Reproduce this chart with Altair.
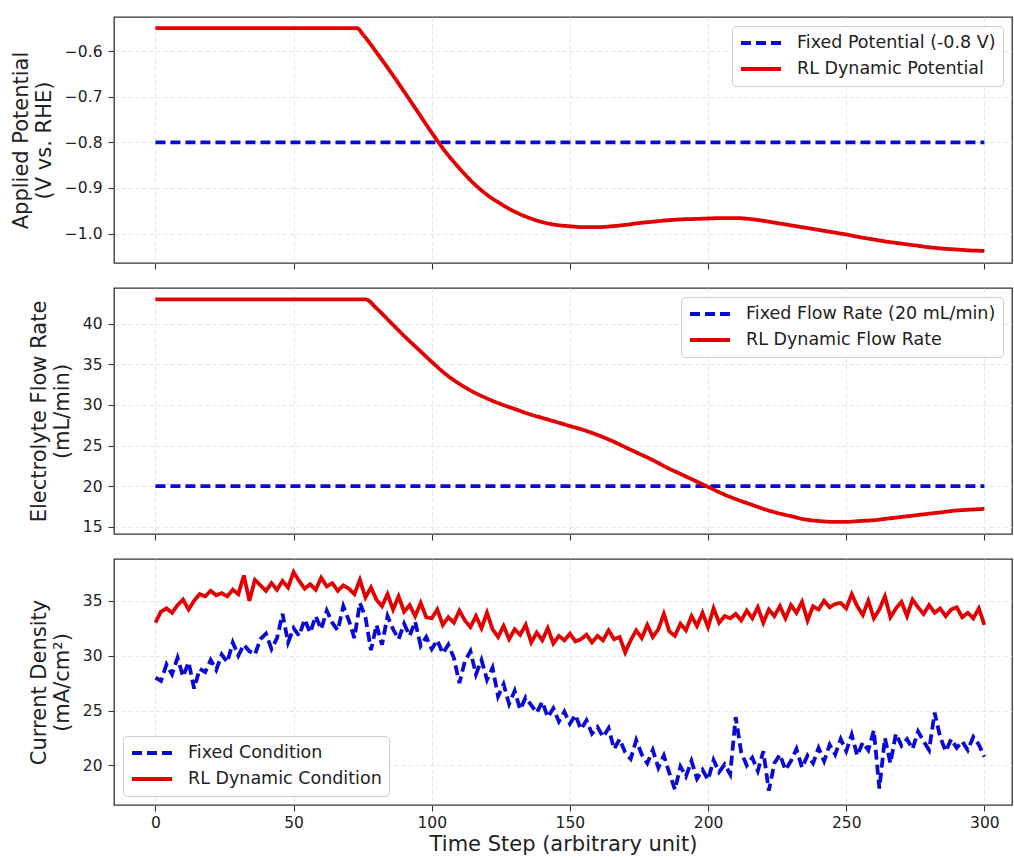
import altair as alt
import pandas as pd

# ---------------- data ----------------
# Panel 1: applied potential
pot_t = [0, 73, 75, 80, 85, 90, 95, 100, 105, 110, 115, 120, 125, 130, 135, 140, 145, 150,
         155, 160, 165, 170, 175, 180, 185, 190, 195, 200, 205, 210, 215, 220, 225, 230,
         235, 240, 245, 250, 255, 260, 265, 270, 275, 280, 285, 290, 295, 300]
pot_rl = [-0.55, -0.55, -0.563, -0.603, -0.645, -0.689, -0.734, -0.779, -0.821, -0.857,
          -0.889, -0.915, -0.935, -0.952, -0.965, -0.975, -0.981, -0.984, -0.986, -0.986,
          -0.984, -0.981, -0.977, -0.974, -0.971, -0.969, -0.968, -0.967, -0.966, -0.966,
          -0.968, -0.972, -0.977, -0.982, -0.987, -0.992, -0.997, -1.002, -1.008, -1.013,
          -1.018, -1.022, -1.026, -1.030, -1.033, -1.035, -1.037, -1.038]
fixed_t = [0, 300]
pot_fixed = [-0.8, -0.8]

# Panel 2: electrolyte flow rate
flow_t = [0, 76, 80, 85, 90, 95, 100, 105, 110, 115, 120, 125, 130, 135, 140, 145, 150,
          155, 160, 165, 170, 175, 180, 185, 190, 195, 200, 205, 210, 215, 220, 225, 230,
          235, 240, 245, 250, 255, 260, 265, 270, 275, 280, 285, 290, 295, 300]
flow_rl = [43.0, 43.0, 41.9, 40.2, 38.5, 36.9, 35.3, 33.8, 32.6, 31.6, 30.8, 30.1, 29.5,
           28.9, 28.4, 27.9, 27.4, 26.9, 26.3, 25.6, 24.8, 24.0, 23.2, 22.3, 21.5, 20.7,
           19.9, 19.1, 18.4, 17.8, 17.2, 16.7, 16.3, 15.9, 15.7, 15.6, 15.6, 15.7, 15.8,
           16.0, 16.2, 16.4, 16.6, 16.8, 17.0, 17.1, 17.2]
flow_fixed = [20.0, 20.0]

# Panel 3: current density (time steps 0, 2, ..., 300)
cd_t = list(range(0, 301, 2))
cd_rl = [33.0, 34.0, 34.3, 33.9, 34.6, 35.1, 34.2, 35.0, 35.6, 35.4, 35.9, 35.5, 35.7, 35.4,
         36.0, 35.6, 37.3, 35.0, 36.9, 36.4, 35.9, 36.6, 36.0, 36.8, 36.2, 37.6, 36.8, 36.1,
         36.5, 36.0, 37.1, 36.3, 36.6, 35.9, 36.4, 36.1, 35.6, 36.9, 35.3, 36.2, 35.1, 34.5,
         35.6, 34.2, 35.4, 34.0, 34.6, 33.6, 34.8, 33.5, 33.4, 34.2, 32.8, 33.5, 33.0, 34.1,
         33.2, 32.6, 33.6, 32.5, 33.9, 32.4, 31.7, 32.7, 31.5, 32.4, 31.9, 32.8, 31.2, 32.1,
         31.4, 32.5, 31.1, 31.8, 31.4, 32.0, 31.3, 31.5, 31.9, 31.2, 31.8, 31.4, 32.3, 31.5,
         31.7, 30.3, 31.4, 32.3, 31.6, 32.8, 31.7, 32.4, 33.8, 32.2, 31.8, 32.9, 32.3, 33.6,
         32.7, 33.9, 32.6, 34.3, 33.0, 33.6, 33.4, 33.8, 33.2, 34.1, 33.4, 34.4, 33.0, 34.2,
         33.6, 34.5, 33.4, 34.6, 33.9, 34.9, 33.2, 34.5, 34.2, 35.0, 34.4, 34.7, 34.8, 34.3,
         35.6, 34.5, 33.7, 35.0, 33.4, 34.2, 35.4, 33.5, 34.3, 34.9, 33.6, 35.1, 34.4, 33.8,
         34.6, 33.9, 34.3, 33.6, 34.2, 34.4, 33.5, 33.9, 33.4, 34.3, 32.8]
cd_fixed = [28.0, 27.7, 29.2, 28.3, 29.8, 28.1, 29.4, 27.0, 28.8, 28.5, 29.6, 28.7, 30.1, 29.4,
            31.2, 30.0, 31.0, 30.4, 30.1, 31.5, 32.0, 30.6, 31.6, 33.8, 31.2, 32.5, 31.8, 33.3,
            32.1, 33.6, 32.4, 34.1, 33.0, 32.3, 34.5, 33.2, 31.6, 34.8, 33.5, 30.5, 32.8, 31.0,
            33.6, 32.4, 31.5, 32.9, 31.8, 33.1, 30.9, 31.7, 30.6, 31.4, 30.2, 31.0, 29.8, 27.5,
            29.5, 30.4, 28.3, 29.6, 27.8, 28.9, 26.3, 27.4, 25.6, 26.8, 25.1, 26.2, 25.5, 24.8,
            25.8, 24.4, 25.2, 24.0, 24.9, 23.8, 24.6, 23.3, 24.1, 22.9, 23.5, 22.6, 23.4, 21.5,
            22.4, 21.2, 20.6, 22.3, 21.0, 20.2, 21.4, 19.8, 20.9, 19.3, 17.8, 19.9, 19.0, 20.4,
            18.8, 19.6, 18.7, 20.5, 19.4, 20.1, 19.2, 24.4, 21.2, 20.0, 20.7, 19.5, 21.3, 17.7,
            20.2, 21.0, 19.6, 20.4, 21.5, 19.8, 20.9, 20.2, 21.6, 20.4, 21.9, 21.0, 22.4, 21.3,
            22.8, 20.9, 22.1, 21.4, 23.2, 17.9, 22.5, 20.2, 22.9, 21.8, 22.4, 21.5, 23.1, 22.2,
            21.4, 24.8, 22.6, 21.3, 22.4, 21.6, 22.2, 21.4, 22.6, 21.9, 20.8]

x_ticks = [0, 50, 100, 150, 200, 250, 300]
pot_ticks = [-1.0, -0.9, -0.8, -0.7, -0.6]
flow_ticks = [15, 20, 25, 30, 35, 40]
cd_ticks = [20, 25, 30, 35]

BLUE = "#0a0ad6"
RED = "#e30000"
FONT = "DejaVu Sans"
LW = 3.8


def frame(t_fixed, v_fixed, name_fixed, t_rl, v_rl, name_rl):
    a = pd.DataFrame({"t": t_fixed, "v": v_fixed, "series": name_fixed})
    b = pd.DataFrame({"t": t_rl, "v": v_rl, "series": name_rl})
    return pd.concat([a, b], ignore_index=True)


def panel(df, names, y_domain, y_ticks, y_fmt, y_title, legend_orient, bottom=False, interp="monotone"):
    x_axis = alt.Axis(values=x_ticks, labels=bottom, title="Time Step (arbitrary unit)" if bottom else None,
                      labelPadding=4, titlePadding=3)
    return alt.Chart(df).mark_line(strokeWidth=LW, interpolate=interp, strokeCap="butt").encode(
        x=alt.X("t:Q", scale=alt.Scale(domain=[-15, 310], nice=False, zero=False), axis=x_axis),
        y=alt.Y("v:Q", scale=alt.Scale(domain=y_domain, nice=False, zero=False),
                axis=alt.Axis(values=y_ticks, format=y_fmt, title=y_title, titlePadding=10,
                              labelPadding=6)),
        color=alt.Color("series:N", scale=alt.Scale(domain=names, range=[BLUE, RED]),
                        legend=alt.Legend(title=None, orient=legend_orient)),
        strokeDash=alt.StrokeDash("series:N", scale=alt.Scale(domain=names, range=[[10, 5], [1, 0]]),
                                  legend=alt.Legend(title=None, orient=legend_orient)),
    ).properties(width=898, height=246)


n1 = ["Fixed Potential (-0.8 V)", "RL Dynamic Potential"]
n2 = ["Fixed Flow Rate (20 mL/min)", "RL Dynamic Flow Rate"]
n3 = ["Fixed Condition", "RL Dynamic Condition"]

p1 = panel(frame(fixed_t, pot_fixed, n1[0], pot_t, pot_rl, n1[1]), n1, [-1.0645, -0.5255], pot_ticks,
           ".1f", ["Applied Potential", "(V vs. RHE)"], "top-right")
p2 = panel(frame(fixed_t, flow_fixed, n2[0], flow_t, flow_rl, n2[1]), n2, [14.1, 44.4], flow_ticks,
           "d", ["Electrolyte Flow Rate", "(mL/min)"], "top-right")
p3 = panel(frame(cd_t, cd_fixed, n3[0], cd_t, cd_rl, n3[1]), n3, [16.4, 38.8], cd_ticks,
           "d", ["Current Density", "(mA/cm²)"], "bottom-left", bottom=True, interp="linear")

chart = alt.vconcat(p1, p2, p3, spacing=16).resolve_scale(
    color="independent", strokeDash="independent"
).resolve_legend(color="independent", strokeDash="independent").properties(
    padding={"left": 9, "top": 16, "right": 0, "bottom": 0}
).configure(font=FONT).configure_view(
    stroke="#333333", strokeWidth=1.3
).configure_axis(
    labelFont=FONT, titleFont=FONT, labelFontSize=15.5, titleFontSize=21, titleFontWeight="normal",
    labelColor="#222222", titleColor="#222222", tickColor="#333333", tickSize=6, tickWidth=1.1,
    domain=False, grid=True, gridColor="#dedede", gridDash=[4, 3], gridWidth=0.8, titleLineHeight=23,
).configure_legend(
    labelFont=FONT, labelFontSize=17.5, labelColor="#222222", labelLimit=0, symbolType="stroke",
    symbolSize=1600, symbolStrokeWidth=LW, clipHeight=20, fillColor="white", strokeColor="#cccccc",
    cornerRadius=4, padding=7, rowPadding=6, labelOffset=14, offset=9,
)

chart.save("out.html", embed_options={"renderer": "svg", "actions": False})
